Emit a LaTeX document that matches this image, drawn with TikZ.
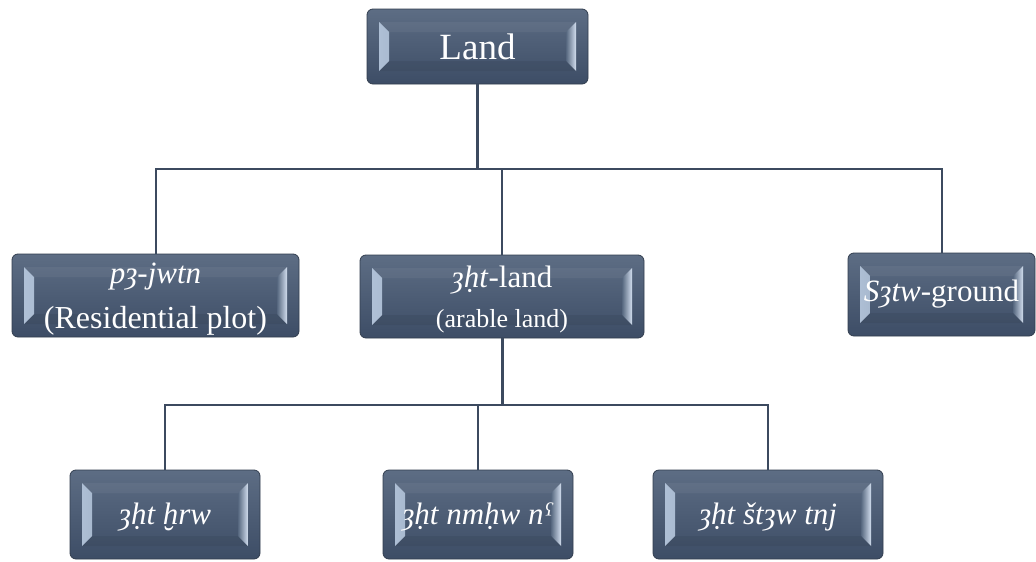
\documentclass[tikz,border=0pt]{standalone}
\usepackage{fontspec}
\setmainfont{Liberation Serif}
\usetikzlibrary{calc}
\definecolor{boxtop}{HTML}{5D6D84}
\definecolor{boxbot}{HTML}{3D4D66}
\definecolor{boxedge}{HTML}{323E4F}
\definecolor{bevlout}{HTML}{B3C4DA}
\definecolor{bevrout}{HTML}{D2DEEE}
\definecolor{bevin}{HTML}{56677F}
\definecolor{linec}{HTML}{3C4A5F}
\newcommand{\upstrut}{\rule{0pt}{27pt}}
\begin{document}
\begin{tikzpicture}[x=1pt,y=-1pt,
  bevelbox/.style={draw=boxedge, line width=0.8pt, rounded corners=6pt,
    top color=boxtop, bottom color=boxbot, text=white,
    font=\fontsize{31}{44}\selectfont, align=center, inner sep=0pt,
    path picture={
      \shade[sharp corners, draw=none, left color=bevlout, right color=bevin]
        let \p1=(path picture bounding box.north west), \p2=(path picture bounding box.south east) in
        (\x1+12pt,\y1-13pt) -- (\x1+22pt,\y1-23pt) -- (\x1+22pt,\y2+23pt) -- (\x1+12pt,\y2+13pt) -- cycle;
      \shade[sharp corners, draw=none, left color=bevin, right color=bevrout]
        let \p1=(path picture bounding box.north west), \p2=(path picture bounding box.south east) in
        (\x2-12pt,\y1-13pt) -- (\x2-22pt,\y1-23pt) -- (\x2-22pt,\y2+23pt) -- (\x2-12pt,\y2+13pt) -- cycle;
      \fill[sharp corners, draw=none, white, opacity=0.05]
        let \p1=(path picture bounding box.north west), \p2=(path picture bounding box.south east) in
        (\x1+12pt,\y1-13pt) -- (\x2-12pt,\y1-13pt) -- (\x2-22pt,\y1-23pt) -- (\x1+22pt,\y1-23pt) -- cycle;
      \fill[sharp corners, draw=none, black, opacity=0.06]
        let \p1=(path picture bounding box.north west), \p2=(path picture bounding box.south east) in
        (\x1+12pt,\y2+13pt) -- (\x2-12pt,\y2+13pt) -- (\x2-22pt,\y2+23pt) -- (\x1+22pt,\y2+23pt) -- cycle;
    }},
  stem/.style={draw=linec, line width=3pt},
  branch/.style={draw=linec, line width=2pt}
]
\useasboundingbox (0,0) rectangle (1036,562);
\fill[white] (0,0) rectangle (1036,562);

\node[bevelbox, minimum width=221pt, minimum height=75pt, font=\fontsize{37}{44}\selectfont] (land) at (477.5,46.5) {Land};
\node[bevelbox, minimum width=287pt, minimum height=83pt] (pjwtn) at (155.5,295.5) {\upstrut\textit{pȝ-jwtn}\\[1pt]{\fontsize{32}{40}\selectfont (Residential plot)}};
\node[bevelbox, minimum width=284pt, minimum height=83pt] (aht) at (502,296.5) {\upstrut\textit{ȝḥt}-land\\[-4pt]{\fontsize{26}{32}\selectfont (arable land)}};
\node[bevelbox, minimum width=187pt, minimum height=83pt] (sztw) at (941.5,294.5) {\textit{Sȝtw}-ground};
\node[bevelbox, minimum width=190pt, minimum height=89pt] (hrw) at (165,514.5) {\upstrut\textit{ȝḥt ḫrw}};
\node[bevelbox, minimum width=190pt, minimum height=89pt] (nmhw) at (478,514.5) {\upstrut\textit{ȝḥt nmḥw nˤ}};
\node[bevelbox, minimum width=230pt, minimum height=89pt] (tnj) at (768,514.5) {\upstrut\textit{ȝḥt štȝw tnj}};

\coordinate (bar1) at (0,169);
\coordinate (bar2) at (0,405);
\draw[stem] (land.south) -- (land.south |- bar1);
\draw[branch] (pjwtn.north) -- (pjwtn.north |- bar1) -- (sztw.north |- bar1) -- (sztw.north);
\draw[branch] (aht.north) -- (aht.north |- bar1);
\draw[stem] (aht.south) -- (aht.south |- bar2);
\draw[branch] (hrw.north) -- (hrw.north |- bar2) -- (tnj.north |- bar2) -- (tnj.north);
\draw[branch] (nmhw.north) -- (nmhw.north |- bar2);
\end{tikzpicture}
\end{document}
